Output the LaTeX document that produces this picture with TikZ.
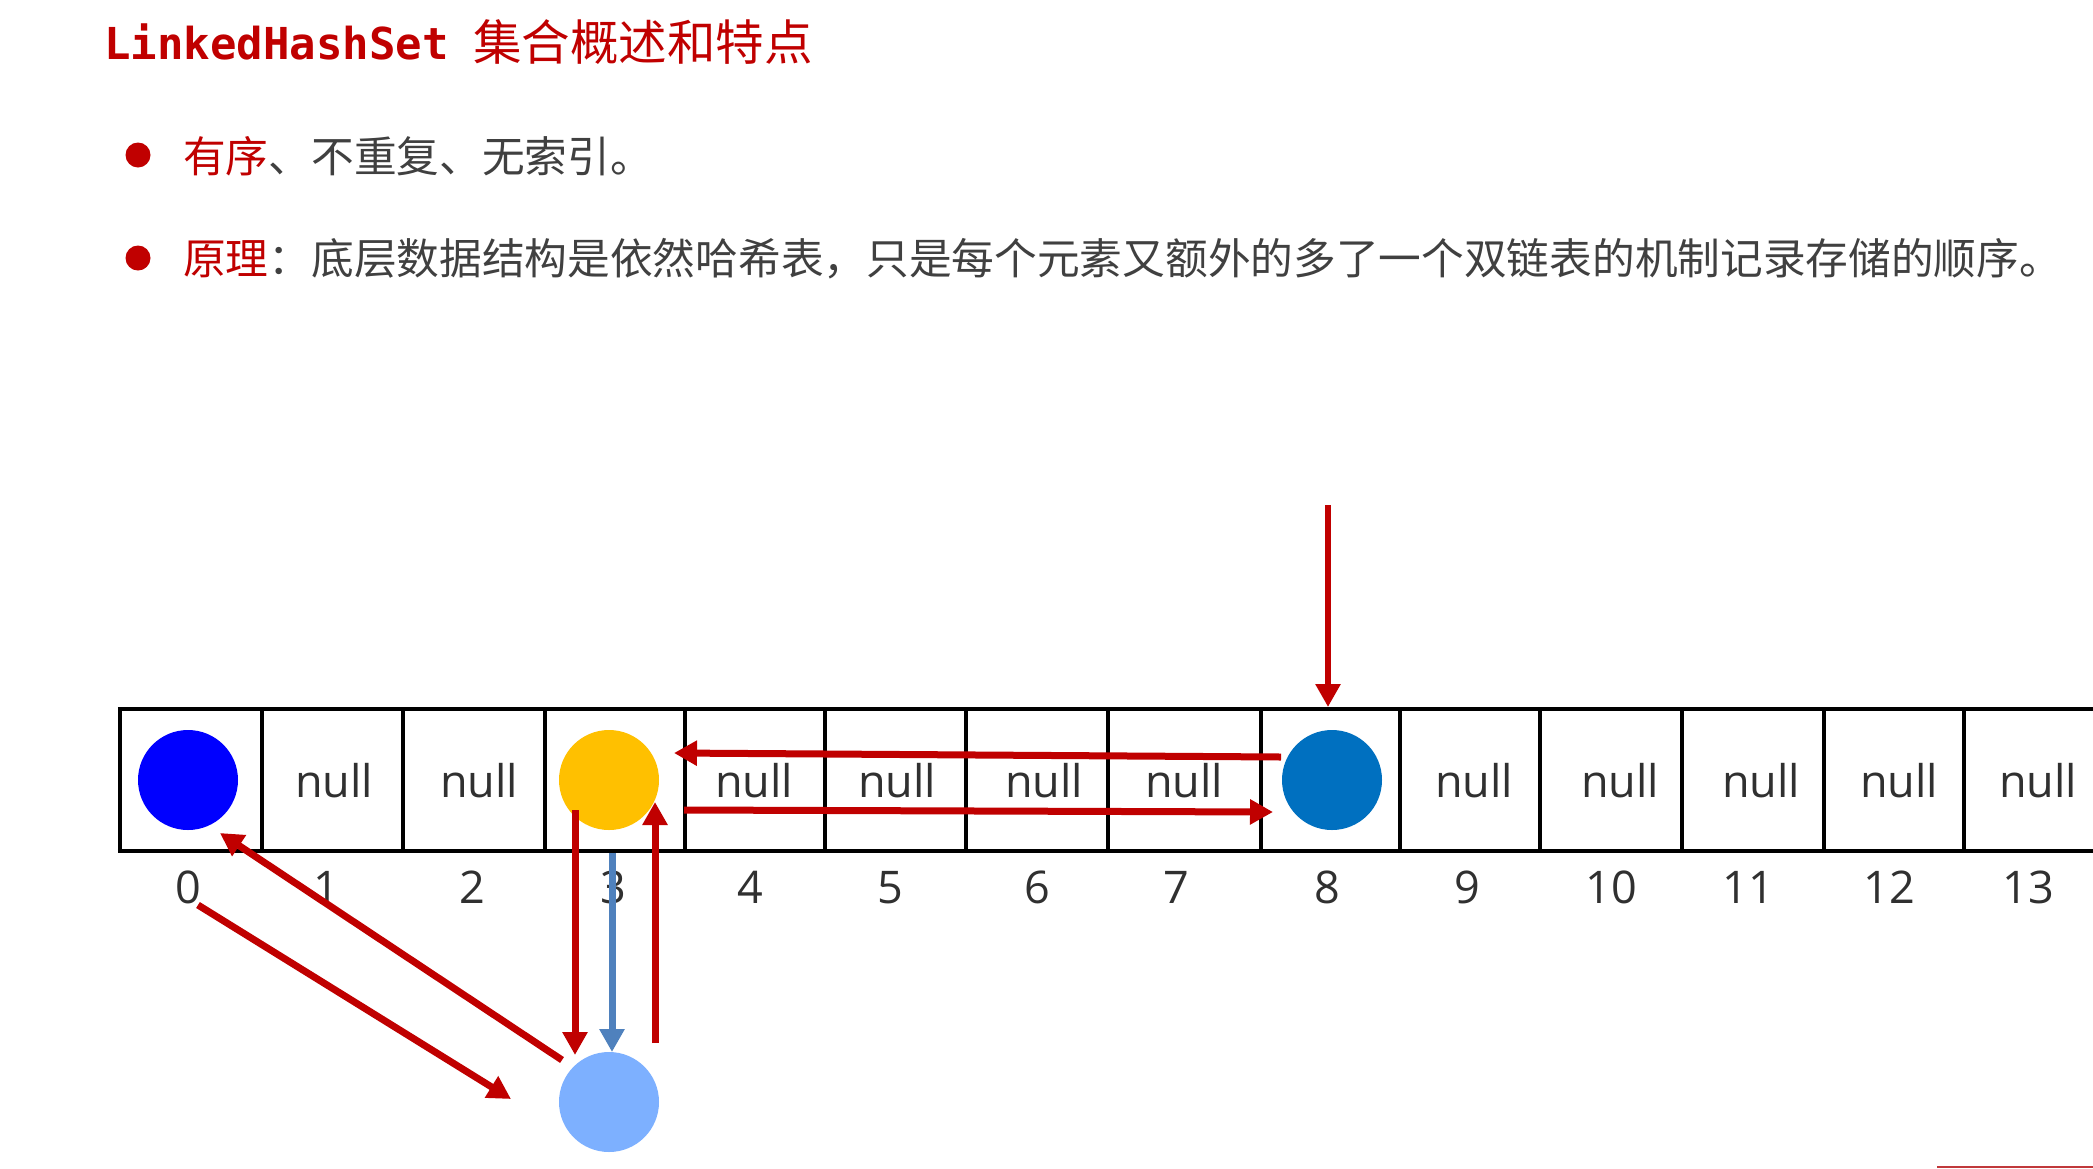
\documentclass[tikz,border=0pt]{standalone}
\usepackage{fontspec}
\setmainfont{Open Sans}
\newfontfamily\cjk{Noto Sans CJK SC}
\newfontfamily\monob{DejaVu Sans Mono}
\usetikzlibrary{arrows.meta}
\definecolor{titlered}{HTML}{C00000}
\definecolor{arrowred}{HTML}{C00000}
\definecolor{arrowblue}{HTML}{4F81BD}
\definecolor{bodygray}{HTML}{404040}
\definecolor{numgray}{HTML}{303030}
\definecolor{ballblue}{HTML}{0000FF}
\definecolor{ballyellow}{HTML}{FFC000}
\definecolor{balldark}{HTML}{0070C0}
\definecolor{balllight}{HTML}{7DB0FF}
\definecolor{footred}{HTML}{C0393B}
\begin{document}
\begin{tikzpicture}[x=1pt,y=-1pt,
  cellline/.style={line width=4.5pt, draw=black},
  redarrow/.style={draw=arrowred, line width=7pt, -{Triangle[length=23pt,width=24pt]}},
  bluearrow/.style={draw=arrowblue, line width=7pt, -{Triangle[length=23pt,width=24pt]}},
  ball/.style={circle, minimum size=100pt, inner sep=0pt, draw=none},
  dot/.style={circle, minimum size=25pt, inner sep=0pt, fill=titlered},
  nulltext/.style={font=\fontsize{45pt}{54pt}\selectfont, text=numgray, inner sep=0pt, anchor=base},
  idxtext/.style={font=\fontsize{45pt}{54pt}\selectfont, text=numgray, inner sep=0pt, anchor=base},
  bodytext/.style={font=\cjk\fontsize{42.7pt}{50pt}\selectfont, text=bodygray, inner sep=0pt, anchor=base west},
]
\useasboundingbox[fill=white] (0,0) rectangle (2093,1168);

% title
\node[anchor=base west, inner sep=0pt, text=titlered, font=\monob\bfseries\fontsize{44pt}{52pt}\selectfont] (ttl) at (104,59) {LinkedHashSet};
\node[anchor=base west, inner sep=0pt, text=titlered, font=\cjk\fontsize{48.5pt}{58pt}\selectfont] (ttlcn) at (473,60) {集合概述和特点};

% bullets
\node[dot] (b1) at (138,155) {};
\node[dot] (b2) at (138,258) {};
\node[bodytext] (l1) at (183,172) {{\color{titlered}有序}、不重复、无索引。};
\node[bodytext] (l2) at (183,274) {{\color{titlered}原理}：底层数据结构是依然哈希表，只是每个元素又额外的多了一个双链表的机制记录存储的顺序。};

% table
\draw[cellline] (117.75,709) -- (2093,709);
\draw[cellline] (117.75,851) -- (2093,851);
\foreach \bx in {120,262,403,545,685,825,966,1108,1261,1400,1540,1682,1824,1964}
  \draw[cellline] (\bx,709) -- (\bx,851);

% null labels
\foreach \nx/\nm in {334/n1,479/n2,754/n4,897/n5,1044/n6,1184/n7,1474/n9,1620/n10,1761/n11,1899/n12,2038/n13}
  \node[nulltext] (\nm) at (\nx,797) {null};

% index labels
\foreach \ix/\il in {188/0,326/1,472/2,613/3,750/4,890/5,1037/6,1176/7,1327/8,1467/9,1611/10,1748/11,1889/12,2028/13}
  \node[idxtext] (i\il) at (\ix,903) {\il};

% elements
\node[ball, fill=ballblue] (c0) at (188,780) {};
\node[ball, fill=ballyellow] (c3) at (609,780) {};
\node[ball, fill=balldark] (c8) at (1332,780) {};
\node[ball, fill=balllight] (cb) at (609,1102) {};

% arrow end points
\coordinate (headin) at (1328,505);
\coordinate (headtip) at (1328,707);
\coordinate (p8out) at (1281,757);
\coordinate (p3in) at (674,753);
\coordinate (p3out) at (684,810);
\coordinate (p8in) at (1273,812);
\coordinate (dnA) at (575,810);
\coordinate (dnAt) at (575,1055);
\coordinate (dnB) at (612,853);
\coordinate (dnBt) at (612,1052);
\coordinate (upA) at (655,1043);
\coordinate (upAt) at (655,802);
\coordinate (dgA) at (562,1060);
\coordinate (dgAt) at (220,833);
\coordinate (dgB) at (198,905);
\coordinate (dgBt) at (511,1099);

\draw[redarrow, line width=6pt] (headin) -- (headtip);
\draw[redarrow] (p8out) -- (p3in);
\draw[redarrow] (p3out) -- (p8in);
\draw[redarrow] (dnA) -- (dnAt);
\draw[bluearrow] (dnB) -- (dnBt);
\draw[redarrow] (upA) -- (upAt);
\draw[redarrow] (dgA) -- (dgAt);
\draw[redarrow] (dgB) -- (dgBt);

% footer line
\draw[line width=2pt, draw=footred] (1937,1166.5) -- (2093,1166.5);
\end{tikzpicture}
\end{document}
